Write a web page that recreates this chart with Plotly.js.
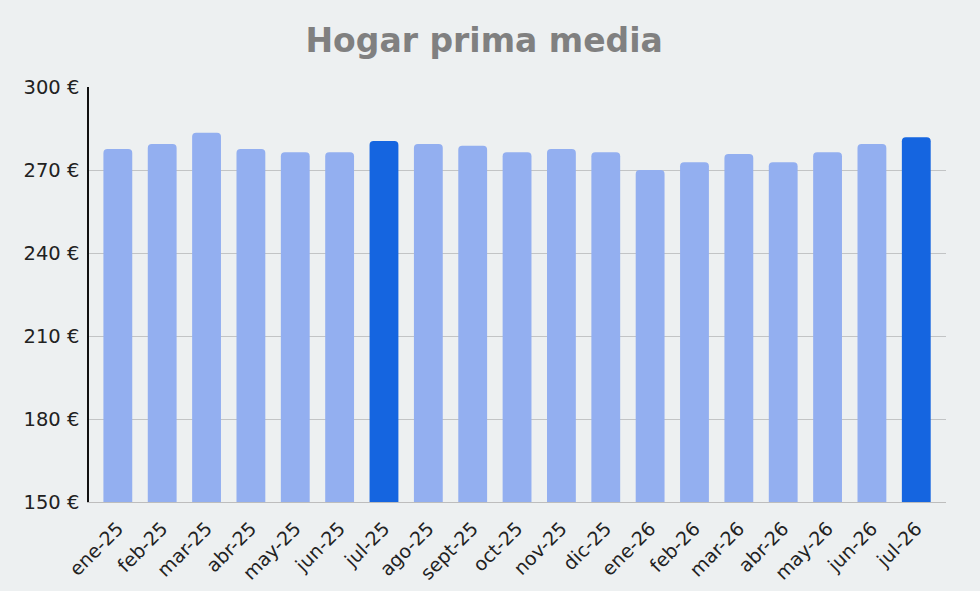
<!DOCTYPE html>
<html>
<head>
<meta charset="utf-8">
<script src="https://cdn.plot.ly/plotly-3.0.1.min.js"></script>
<style>html,body{margin:0;padding:0;background:#edf0f1;}#chart{width:980px;height:591px;}</style>
</head>
<body>
<div id="chart"></div>
<script>
const categories = ["ene-25","feb-25","mar-25","abr-25","may-25","jun-25","jul-25","ago-25","sept-25","oct-25","nov-25","dic-25","ene-26","feb-26","mar-26","abr-26","may-26","jun-26","jul-26"];
const values = [277.6,279.4,283.5,277.6,276.4,276.4,280.5,279.4,278.8,276.4,277.6,276.4,270.0,272.8,275.8,272.8,276.4,279.4,281.8];
const highlighted = ["jul-25","jul-26"];
const yTickValues = [150,180,210,240,270,300];
const yTickLabels = ["150 €","180 €","210 €","240 €","270 €","300 €"];

const colors = categories.map(c => highlighted.includes(c) ? "#1565e0" : "#93aff0");

const data = [{
  type: "bar",
  x: categories,
  y: values,
  marker: {color: colors, cornerradius: 4},
  hoverinfo: "x+y"
}];

const layout = {
  width: 980, height: 591,
  paper_bgcolor: "#edf0f1",
  plot_bgcolor: "#edf0f1",
  font: {family: "DejaVu Sans", color: "#222", size: 18},
  title: {text: "Hogar prima media", x: 0.494, xanchor: "center", y: 0.932, yanchor: "middle",
          font: {family: "DejaVu Sans", size: 33, color: "#808080", weight: "bold"}},
  margin: {l: 89, r: 34, t: 87, b: 89},
  bargap: 0.35,
  showlegend: false,
  xaxis: {
    type: "category",
    range: [-0.65, 18.67],
    tickangle: -45,
    showline: true, linecolor: "#bdbdbd", linewidth: 1,
    ticks: "", showgrid: false,
    ticklabelstandoff: 7,
    tickfont: {size: 19, color: "#222"}
  },
  yaxis: {
    range: [150, 300],
    tickvals: yTickValues,
    ticktext: yTickLabels,
    showline: true, linecolor: "#111", linewidth: 1.5,
    showgrid: true, gridcolor: "#c2c4c5", gridwidth: 1,
    zeroline: false, ticks: "",
    ticklabelstandoff: 4,
    tickfont: {size: 19.5, color: "#222"}
  }
};

Plotly.newPlot("chart", data, layout, {displayModeBar: false});
</script>
</body>
</html>
